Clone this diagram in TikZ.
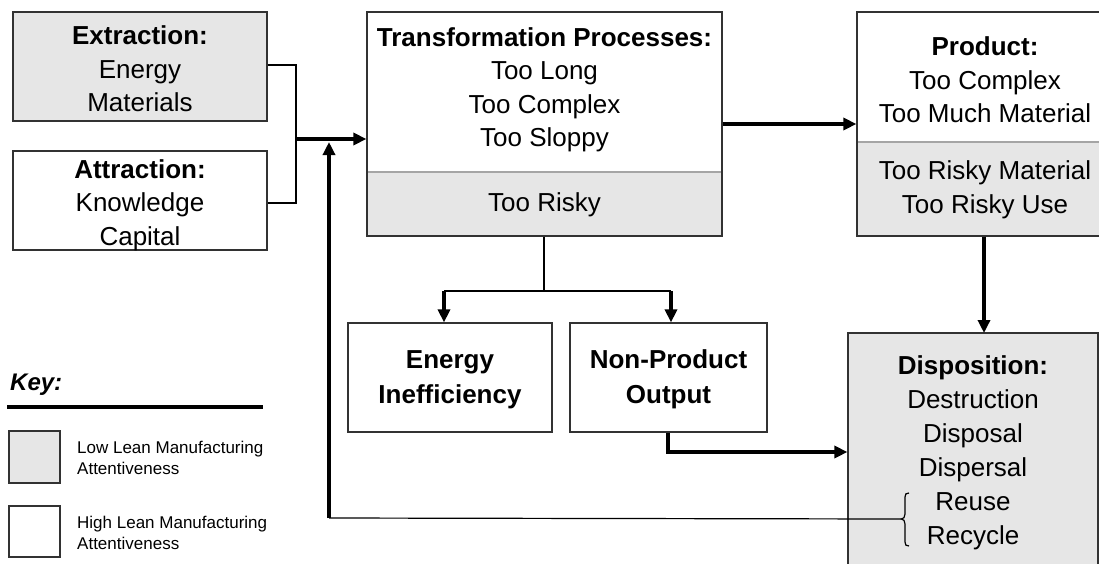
\documentclass[tikz,border=0pt]{standalone}
\usepackage{fontspec}
\setmainfont{Liberation Sans}
\usetikzlibrary{arrows.meta}
\definecolor{lowfill}{RGB}{230,230,230}
\definecolor{edge}{RGB}{50,50,50}
\definecolor{divider}{RGB}{165,165,165}
\tikzset{
  box/.style={draw=edge, line width=1.2pt, inner sep=0pt, anchor=center},
  lowbox/.style={box, fill=lowfill},
  highbox/.style={box, fill=white},
  conn/.style={line width=1.2pt},
  flowarrow/.style={line width=3.4pt, -{Triangle[length=13pt,width=12pt]}},
  big/.style={font=\fontsize{26}{33.5}\selectfont, align=center, inner sep=0pt},
  small/.style={font=\fontsize{17}{21}\selectfont, align=left, inner sep=0pt, anchor=west},
}
\begin{document}
\begin{tikzpicture}[x=1pt,y=-1pt]
\useasboundingbox (0,0) rectangle (1099,563);
\clip (0,0) rectangle (1099,563);

% boxes
\node[lowbox, minimum width=254pt, minimum height=109pt] (ext) at (140,66.5) {};
\node[highbox, minimum width=254pt, minimum height=99pt] (att) at (140,200.5) {};
\node[highbox, minimum width=355pt, minimum height=224pt] (tp) at (544.5,124) {};
\fill[lowfill] (368,172) rectangle (721,235);
\draw[divider, line width=1.2pt] (367.6,172) -- (721.4,172);
\draw[edge, line width=1.2pt] (367,12) rectangle (722,236);

\node[highbox, minimum width=256pt, minimum height=224pt] (prod) at (985,124) {};
\fill[lowfill] (858,142) rectangle (1112,235);
\draw[divider, line width=1.2pt] (857.6,142) -- (1112.4,142);
\draw[edge, line width=1.2pt] (857,12) rectangle (1113,236);

\node[highbox, minimum width=204pt, minimum height=109pt] (ei) at (450,377.5) {};
\node[highbox, minimum width=197pt, minimum height=109pt] (npo) at (668.5,377.5) {};
\node[lowbox, minimum width=250pt, minimum height=300pt] (disp) at (973,483) {};

% texts
\node[big] (extT) at (140,69) {\textbf{Extraction:}\\Energy\\Materials};
\node[big] (attT) at (140,205) {\textbf{Attraction:}\\Knowledge\\Capital};
\node[big] (tpT) at (544.5,90) {\textbf{Transformation Processes:}\\Too Long\\Too Complex\\Too Sloppy};
\node[big] (tpR) at (544.5,205) {Too Risky};
\node[big] (prodT) at (985,80) {\textbf{Product:}\\Too Complex\\Too Much Material};
\node[big] (prodR) at (985,190) {Too Risky Material\\Too Risky Use};
\node[big, font=\bfseries\fontsize{26}{35}\selectfont] (eiT) at (450,379.5) {Energy\\Inefficiency};
\node[big, font=\bfseries\fontsize{26}{35}\selectfont] (npoT) at (668.5,379.5) {Non-Product\\Output};
\node[big, font=\fontsize{26}{34}\selectfont] (dispT) at (973,453) {\textbf{Disposition:}\\Destruction\\Disposal\\Dispersal\\Reuse\\Recycle};

% key
\node[anchor=west, inner sep=0pt, font=\bfseries\itshape\fontsize{24}{28}\selectfont] (keyT) at (10,385) {Key:};
\coordinate (keyL) at (7,407);
\coordinate (keyR) at (263,407);
\draw[line width=3.8pt] (keyL) -- (keyR);
\node[lowbox, minimum width=51pt, minimum height=52pt] (klow) at (34.5,457) {};
\node[highbox, minimum width=51pt, minimum height=51pt] (khigh) at (34.5,531.5) {};
\node[small] (klowT) at (77,457.5) {Low Lean Manufacturing\\Attentiveness};
\node[small] (khighT) at (77,532.5) {High Lean Manufacturing\\Attentiveness};

% connectors: inputs
\coordinate (j) at (296,139);
\draw[conn] (ext.east |- 0,65) -| (j);
\draw[conn] (j) |- (att.east |- 0,203);
\draw[flowarrow] (j) -- (j -| tp.west);

% transformation -> product
\draw[flowarrow] (tp.east) -- (prod.west);

% transformation -> branches
\coordinate (br) at (544,291);
\coordinate (eiA) at (444,291);
\coordinate (npoA) at (671,291);
\draw[conn] (tp.south -| br) -- (br);
\draw[conn] (eiA) -- (npoA);
\draw[flowarrow] (eiA) -- (eiA |- ei.north);
\draw[flowarrow] (npoA) -- (npoA |- npo.north);

% product -> disposition
\draw[flowarrow] (prod.south -| 984,0) -- (984,333);

% non-product -> disposition
\coordinate (npoB) at (668,452);
\draw[flowarrow] (npo.south -| npoB) -- (npoB) -- (npoB -| disp.west);

% brace and feedback
\coordinate (tip) at (901.5,519);
\draw[line width=1.2pt] (909,493) .. controls (906,493) and (905,494) .. (905,497)
  -- (905,514) .. controls (905,517) and (903.5,519) .. (tip)
  .. controls (903.5,519) and (905,521) .. (905,524)
  -- (905,542) .. controls (905,545) and (906,546) .. (909,546);
\coordinate (fb) at (329,518);
\coordinate (fbEnd) at (329,142);
\draw[conn] (tip) -- (fb);
\draw[flowarrow] (fb) -- (fbEnd);
\end{tikzpicture}
\end{document}
